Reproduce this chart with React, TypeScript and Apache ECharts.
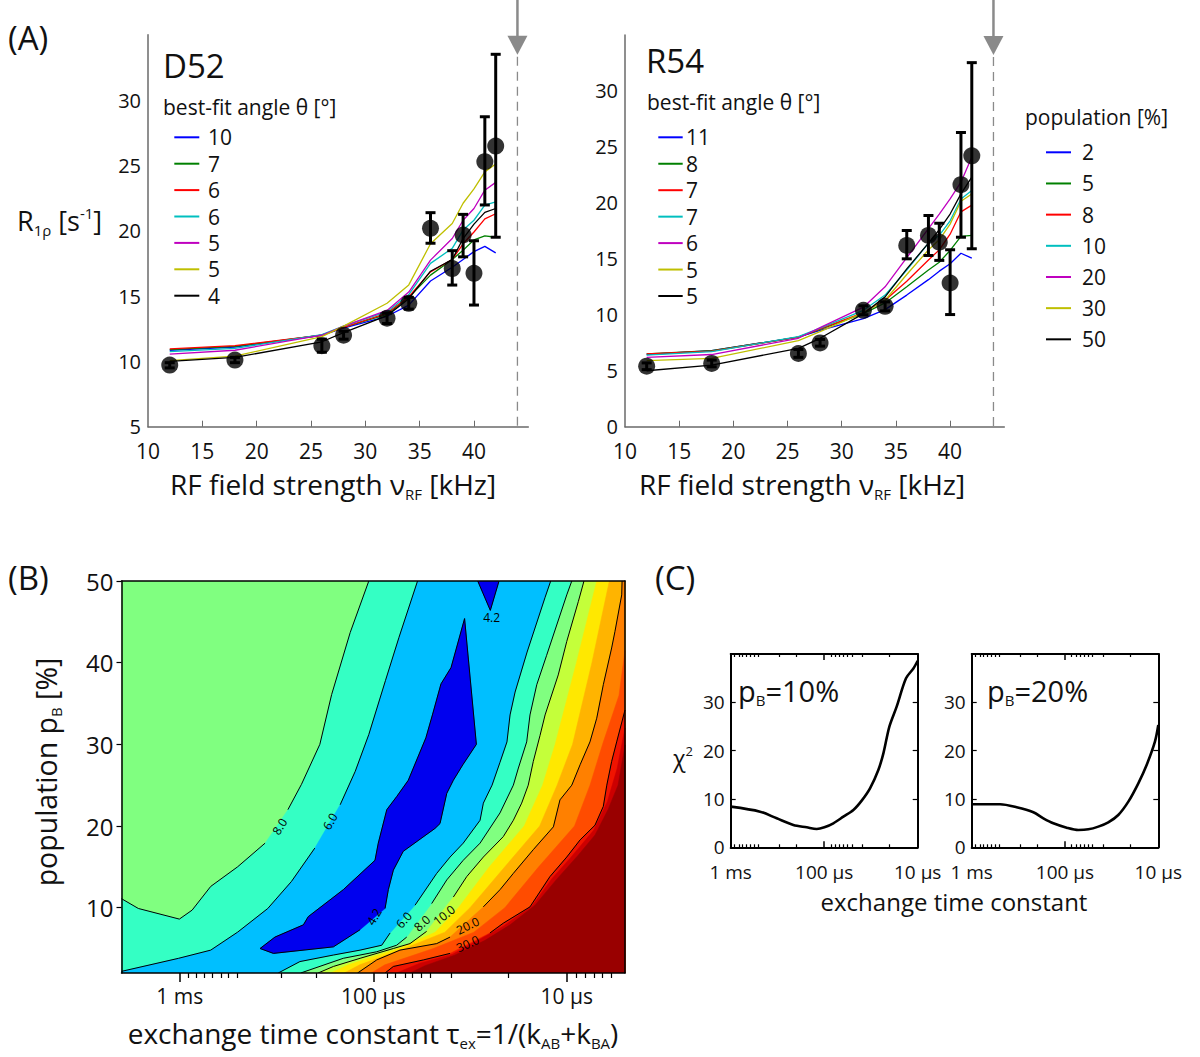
import React, { useEffect, useRef } from 'react';
import * as echarts from 'echarts';

const FONT = '"Open Sans", "DejaVu Sans", sans-serif';

// ---------------- Panel A data ----------------
const fieldKHz = [12, 18, 26, 28, 32, 34, 36, 38, 39, 40, 41, 42];

const d52R = [9.72, 10.1, 11.2, 12.0, 13.3, 14.44, 20.18, 17.1, 19.67, 16.74, 25.28, 26.48];
const d52Lo = [9.5, 9.9, 10.7, 11.7, 12.9, 14.0, 19.04, 15.84, 18.0, 14.31, 21.97, 19.5];
const d52Hi = [9.9, 10.3, 11.7, 12.3, 13.7, 14.9, 21.38, 18.47, 21.25, 19.23, 28.72, 33.5];

const r54R = [5.41, 5.65, 6.54, 7.49, 10.4, 10.76, 16.2, 17.09, 16.49, 12.84, 21.63, 24.2];
const r54Lo = [5.1, 5.35, 6.2, 7.2, 10.0, 10.35, 15.0, 15.3, 14.86, 10.02, 16.93, 15.9];
const r54Hi = [5.7, 5.95, 6.9, 7.8, 10.8, 11.15, 17.53, 18.87, 18.18, 15.81, 26.29, 32.53];

const d52Fits = [
  [10.85, 11.1, 12.0, 12.55, 13.45, 14.3, 16.15, 17.2, 17.8, 18.4, 18.8, 18.3],
  [10.9, 11.15, 12.0, 12.6, 13.6, 14.9, 16.6, 17.8, 18.5, 19.3, 19.6, 19.5],
  [10.95, 11.2, 12.0, 12.6, 13.7, 14.95, 16.85, 17.8, 19.0, 19.9, 20.9, 21.3],
  [10.75, 11.0, 12.05, 12.7, 13.8, 15.1, 17.5, 18.65, 20.05, 20.8, 21.95, 22.2],
  [10.55, 10.85, 12.0, 12.7, 13.9, 15.3, 17.75, 19.4, 20.8, 21.7, 23.1, 23.7],
  [10.05, 10.4, 11.9, 12.7, 14.45, 15.85, 19.0, 20.55, 22.1, 23.2, 24.5, 25.1],
  [10.0, 10.3, 11.5, 12.2, 13.5, 14.8, 16.9, 17.8, 19.4, 20.5, 21.4, 21.7],
];
const r54Fits = [
  [6.45, 6.8, 8.0, 8.6, 9.66, 10.46, 11.76, 13.14, 13.9, 14.56, 15.5, 15.06],
  [6.5, 6.8, 8.0, 8.7, 10.1, 11.06, 12.5, 14.0, 14.7, 15.75, 17.0, 17.1],
  [6.5, 6.75, 8.0, 8.75, 10.2, 11.3, 13.0, 14.9, 15.8, 17.2, 19.2, 19.8],
  [6.4, 6.7, 8.05, 8.8, 10.4, 11.76, 14.0, 16.4, 17.1, 18.4, 20.35, 21.1],
  [6.2, 6.45, 7.9, 8.85, 10.68, 12.5, 15.1, 17.7, 19.0, 20.35, 21.85, 24.1],
  [5.9, 6.1, 7.7, 8.5, 10.2, 11.3, 13.6, 15.8, 16.7, 18.1, 20.15, 20.8],
  [5.0, 5.5, 7.0, 7.9, 10.1, 11.6, 14.1, 16.4, 17.6, 19.0, 20.8, 22.3],
];
const d52Angles = ['10', '7', '6', '6', '5', '5', '4'];
const r54Angles = ['11', '8', '7', '7', '6', '5', '5'];
const populations = ['2', '5', '8', '10', '20', '30', '50'];
const fitColors = ['#0000FF', '#008000', '#FF0000', '#00BFBF', '#BF00BF', '#BFBF00', '#000000'];
const arrowKHz = 44;
const aXTicks = [10, 15, 20, 25, 30, 35, 40];

// ---------------- Panel B data (x = log10(1/tau [s]), y = pB [%]) ----------------
const X0 = Math.log10(500);
const X1 = Math.log10(2e5);
const tauTicks = [3, 4, 5];
const tauTickText = ['1 ms', '100 µs', '10 µs'];
const tauMinorTicks = [3.043, 3.087, 3.127, 3.168, 3.212, 3.252, 3.296, 3.524, 3.704, 4.071, 4.116, 4.163, 4.203, 4.249, 4.295, 4.405, 4.699, 5.048, 5.094, 5.14, 5.186, 5.231];
const pbTicks = [10, 20, 30, 40, 50];

const bL8a = [[3.977, 50], [3.881, 43.7], [3.785, 36.1], [3.724, 30.0], [3.629, 25.1], [3.559, 22.0], null, [3.441, 17.9], [3.299, 15.0], [3.16, 12.6], [3.064, 9.7], [2.998, 8.6], [2.786, 9.9], [2.699, 11.1]];
const bL6a = [[4.229, 50], [4.133, 43.1], [4.063, 37.8], [3.977, 31.2], [3.907, 26.7], [3.829, 22.6], null, [3.698, 17.3], [3.577, 13.2], [3.455, 9.9], [3.299, 7.0], [3.16, 4.8], [2.994, 3.8], [2.699, 2.2]];
const bL6b = [[4.917, 50], [4.888, 48.0], [4.795, 41.3], [4.733, 36.4], [4.707, 33.6], [4.691, 30.3], [4.655, 27.8], [4.614, 25.0], [4.569, 22.8], [4.552, 20.7], [4.465, 17.9], [4.397, 16.2], [4.328, 14.2], [4.259, 11.8], [4.216, 10.3], null, [4.087, 6.9], [4.044, 5.4], [3.932, 4.8], [3.794, 4.2], [3.621, 3.4], [3.509, 2]];
const bL8b = [[5.026, 50], [5.0, 48.3], [4.896, 40.9], [4.845, 37.3], [4.81, 33.6], [4.793, 30.3], [4.75, 27.1], [4.724, 25.0], [4.655, 21.6], [4.552, 17.9], [4.465, 15.8], [4.38, 13.4], [4.302, 10.5], null, [4.173, 6.4], [4.121, 5.4], [4.018, 4.6], [3.845, 3.8], [3.625, 2]];
const bL10 = [[5.089, 50], [5.06, 47.5], [5.0, 42.6], [4.956, 38.5], [4.888, 33.6], [4.862, 31.1], [4.827, 27.9], [4.801, 25.0], [4.767, 22.8], [4.724, 20.7], [4.672, 18.7], [4.569, 16.2], [4.483, 13.8], [4.414, 11.3], null, [4.276, 7.1], [4.19, 5.6], [4.104, 5.0], [3.932, 3.8], [3.794, 2.8], [3.715, 2]];
const bL13 = [[5.155, 50], [5.05, 40], [4.94, 30], [4.875, 25], [4.78, 20], [4.6, 15], [4.44, 10], [4.32, 7], [4.13, 5], [3.87, 3], [3.78, 2]];
const bL16 = [[5.22, 50], [5.13, 40], [5.03, 30], [4.95, 25], [4.86, 20], [4.68, 15], [4.5, 10], [4.37, 7], [4.16, 5], [3.93, 3], [3.85, 2]];
const bL20 = [[5.286, 50], [5.284, 48.3], [5.249, 43.8], [5.232, 41.8], [5.189, 37.3], [5.155, 33.2], [5.12, 30.3], [5.069, 27.5], [5.026, 25.0], [4.965, 23.2], [4.931, 19.9], [4.827, 17.1], [4.724, 14.2], [4.655, 12.2], [4.569, 10.1], null, [4.397, 6.4], [4.328, 5.6], [4.138, 4.8], [4.018, 3.6], [3.919, 2]];
const bL25 = [[5.301, 41.5], [5.27, 36], [5.185, 30], [5.12, 25], [5.04, 20], [4.855, 15], [4.68, 10], [4.52, 7], [4.31, 5], [4.06, 3], [3.99, 2]];
const bL30 = [[5.301, 34.2], [5.258, 30.3], [5.232, 27.9], [5.207, 25.0], [5.189, 22.4], [5.146, 20.1], [5.069, 18.3], [5.0, 16.2], [4.913, 13.8], [4.81, 10.1], [4.672, 8.1], [4.603, 6.9], null, [4.397, 4.4], [4.259, 3.6], [4.104, 2.8], [4.061, 2]];
const bL35 = [[5.301, 32], [5.26, 27], [5.21, 23], [5.14, 19.5], [5.015, 16], [4.925, 13.6], [4.82, 10.2], [4.67, 7.7], [4.41, 4.3], [4.24, 3.2], [4.12, 2]];
const bL40 = [[5.301, 29.9], [5.265, 25.0], [5.213, 22.0], [5.146, 18.9], [5.058, 16.4], [4.945, 13.4], [4.836, 10.3], [4.707, 7.9], [4.578, 6.0], [4.423, 4.2], [4.267, 2.9], [4.19, 2]];
const bD1 = [[3.932, 7.3], [3.794, 5.2], [3.484, 4.4], [3.415, 5.0], [3.492, 6.4], [3.639, 7.9], [3.664, 8.9], [3.845, 12.2], [4.009, 15.8], [4.026, 17.9], [4.07, 22.0], [4.121, 23.6], [4.181, 25.6], [4.272, 30.8], [4.307, 33.7], [4.35, 37.4], [4.402, 39.4], [4.472, 45.4], [4.533, 30.0], [4.463, 27.5], [4.414, 25.6], [4.38, 24.0], [4.345, 20.3], [4.319, 19.7], [4.155, 16.9], [4.104, 14.6], [4.078, 12.2], [4.061, 9.9]];
const bD2 = [[4.54, 50], [4.605, 46.4], [4.65, 50]];

const bLabels = [
  { text: '8.0', at: [3.516, 19.95], angle: 58 },
  { text: '6.0', at: [3.777, 20.57], angle: 60 },
  { text: '4.2', at: [4.004, 8.9], angle: 60 },
  { text: '4.2', at: [4.612, 45.5], angle: 0 },
  { text: '6.0', at: [4.158, 8.5], angle: 48 },
  { text: '8.0', at: [4.252, 8.1], angle: 42 },
  { text: '10.0', at: [4.366, 9.1], angle: 38 },
  { text: '20.0', at: [4.488, 7.8], angle: 26 },
  { text: '30.0', at: [4.488, 5.6], angle: 24 },
];

// ---------------- Panel C data ----------------
const cX10 = [3.0, 3.314, 3.492, 3.67, 3.813, 3.92, 4.002, 4.098, 4.205, 4.312, 4.401, 4.49, 4.579, 4.633, 4.697, 4.775, 4.875, 4.954, 5.0];
const cChi10 = [8.41, 7.38, 6.0, 4.62, 4.14, 3.79, 4.14, 4.97, 6.34, 7.72, 9.66, 12.2, 16.0, 19.45, 24.97, 29.1, 34.97, 37.0, 38.6];
const cX20 = [3.0, 3.304, 3.482, 3.661, 3.768, 3.875, 4.018, 4.143, 4.25, 4.357, 4.464, 4.571, 4.679, 4.786, 4.875, 4.964, 5.0];
const cChi20 = [8.9, 8.9, 8.28, 7.24, 6.0, 4.97, 4.07, 3.59, 3.72, 4.28, 5.17, 6.69, 9.45, 13.24, 17.03, 21.86, 25.3];
const chiTicks = [0, 10, 20, 30];

// ---------------- helpers ----------------
const rich = {
  s: { fontSize: 15, fontFamily: FONT, padding: [19, 0, 0, 0] },
  p: { fontSize: 15, fontFamily: FONT, padding: [0, 0, 15, 0] },
};
const richSmall = {
  s: { fontSize: 13, fontFamily: FONT, padding: [16, 0, 0, 0] },
  p: { fontSize: 13, fontFamily: FONT, padding: [0, 0, 14, 0] },
};

function txt(text: string, x: number, y: number, fontSize: number, opts: any = {}) {
  return {
    type: 'text',
    x, y,
    rotation: opts.rotation || 0,
    z: 50,
    style: {
      text, fontSize, fontFamily: FONT, fill: '#111',
      align: opts.align || 'left', verticalAlign: 'middle',
      rich: opts.rich,
    },
  };
}

function legend(title: string, titleX: number, titleY: number, labels: string[], row0: number, step: number, lx0: number, lx1: number, tx: number) {
  const els: any[] = [txt(title, titleX, titleY, 21)];
  labels.forEach((l, i) => {
    const y = row0 + i * step;
    els.push({ type: 'line', z: 50, shape: { x1: lx0, y1: y, x2: lx1, y2: y }, style: { stroke: fitColors[i], lineWidth: 2 } });
    els.push(txt(l, tx, y, 21));
  });
  return els;
}

const tauFmt = (v: number) => {
  const i = tauTicks.findIndex((t) => Math.abs(t - v) < 1e-6);
  return i >= 0 ? tauTickText[i] : '';
};

function buildOption() {
  const grids = [
    { left: 148, top: 34.7, width: 380.3, height: 392 },
    { left: 625, top: 35, width: 379.3, height: 391.7 },
    { left: 121.5, top: 581, width: 503.5, height: 392, show: true, backgroundColor: '#80FF80', borderWidth: 0 },
    { left: 730.7, top: 654, width: 187, height: 193.3 },
    { left: 971.7, top: 654, width: 186.6, height: 193.3 },
  ];

  const aX = (g: number) => ({
    gridIndex: g, type: 'value', min: 10, max: 45,
    axisLine: { onZero: false, lineStyle: { color: '#6a6a6a', width: 1.5 } },
    axisTick: { inside: true, length: 6, customValues: aXTicks.slice(1), lineStyle: { color: '#6a6a6a', width: 1 } },
    axisLabel: { customValues: aXTicks, fontSize: 21, color: '#111', fontFamily: FONT, margin: 14 },
    splitLine: { show: false },
  });
  const aY = (g: number, min: number) => {
    const vals: number[] = [];
    for (let v = min; v <= 30; v += 5) vals.push(v);
    return {
      gridIndex: g, type: 'value', min, max: 35,
      axisLine: { show: true, onZero: false, lineStyle: { color: '#6a6a6a', width: 1.5 } },
      axisTick: { show: false },
      axisLabel: { customValues: vals, fontSize: 20, color: '#111', fontFamily: FONT, margin: 7 },
      splitLine: { show: false },
    };
  };

  const blackLine = (w: number) => ({ show: true, onZero: false, lineStyle: { color: '#000', width: w } });
  const noLabel = { show: false };

  const xAxes: any[] = [
    aX(0), aX(1),
    // B
    {
      gridIndex: 2, type: 'value', min: X0, max: X1, position: 'bottom', z: 10,
      axisLine: blackLine(1.5),
      axisTick: { customValues: tauTicks, length: 9, lineStyle: { color: '#000', width: 1.5 } },
      axisLabel: { customValues: tauTicks, formatter: tauFmt, fontSize: 21, color: '#111', fontFamily: FONT, margin: 12 },
      splitLine: { show: false },
    },
    {
      gridIndex: 2, type: 'value', min: X0, max: X1, position: 'bottom', z: 10,
      axisLine: { show: false, onZero: false },
      axisTick: { customValues: tauMinorTicks, length: 5, lineStyle: { color: '#000', width: 1.2 } },
      axisLabel: noLabel, splitLine: { show: false },
    },
    {
      gridIndex: 2, type: 'value', min: X0, max: X1, position: 'top', z: 10,
      axisLine: blackLine(1.5), axisTick: { show: false }, axisLabel: noLabel, splitLine: { show: false },
    },
  ];
  const yAxes: any[] = [
    aY(0, 5), aY(1, 0),
    {
      gridIndex: 2, type: 'value', min: 2, max: 50, position: 'left', z: 10,
      axisLine: blackLine(1.5),
      axisTick: { customValues: pbTicks, length: 5, lineStyle: { color: '#000', width: 1.2 } },
      axisLabel: { customValues: pbTicks, fontSize: 24, color: '#111', fontFamily: FONT, margin: 8 },
      splitLine: { show: false },
    },
    {
      gridIndex: 2, type: 'value', min: 2, max: 50, position: 'right', z: 10,
      axisLine: blackLine(1.5), axisTick: { show: false }, axisLabel: noLabel, splitLine: { show: false },
    },
  ];

  // C axes
  const cXIdx: number[] = [];
  const cYIdx: number[] = [];
  [3, 4].forEach((g) => {
    cXIdx.push(xAxes.length);
    xAxes.push({
      gridIndex: g, type: 'value', min: 3, max: 5, position: 'bottom', z: 10,
      axisLine: blackLine(2),
      axisTick: { inside: true, customValues: [4], length: 6, lineStyle: { color: '#000', width: 1.5 } },
      axisLabel: { customValues: tauTicks, formatter: tauFmt, fontSize: 19, color: '#111', fontFamily: FONT, margin: 15 },
      splitLine: { show: false },
    });
    xAxes.push({
      gridIndex: g, type: 'value', min: 3, max: 5, position: 'bottom', z: 10,
      axisLine: { show: false, onZero: false },
      axisTick: { inside: true, customValues: tauMinorTicks.filter((t) => t < 5), length: 3, lineStyle: { color: '#000', width: 1.2 } },
      axisLabel: noLabel, splitLine: { show: false },
    });
    xAxes.push({
      gridIndex: g, type: 'value', min: 3, max: 5, position: 'top', z: 10,
      axisLine: blackLine(2),
      axisTick: { inside: true, customValues: [4], length: 6, lineStyle: { color: '#000', width: 1.5 } },
      axisLabel: noLabel, splitLine: { show: false },
    });
    xAxes.push({
      gridIndex: g, type: 'value', min: 3, max: 5, position: 'top', z: 10,
      axisLine: { show: false, onZero: false },
      axisTick: { inside: true, customValues: tauMinorTicks.filter((t) => t < 5), length: 3, lineStyle: { color: '#000', width: 1.2 } },
      axisLabel: noLabel, splitLine: { show: false },
    });
    cYIdx.push(yAxes.length);
    yAxes.push({
      gridIndex: g, type: 'value', min: 0, max: 40, position: 'left', z: 10,
      axisLine: blackLine(2),
      axisTick: { inside: true, customValues: [10, 20, 30], length: 5, lineStyle: { color: '#000', width: 1.2 } },
      axisLabel: { customValues: chiTicks, fontSize: 19, color: '#111', fontFamily: FONT, margin: 6 },
      splitLine: { show: false },
    });
    yAxes.push({
      gridIndex: g, type: 'value', min: 0, max: 40, position: 'right', z: 10,
      axisLine: blackLine(2),
      axisTick: { inside: true, customValues: [10, 20, 30], length: 5, lineStyle: { color: '#000', width: 1.2 } },
      axisLabel: noLabel, splitLine: { show: false },
    });
  });

  const series: any[] = [];

  // Panel A series
  const panelA = [
    { g: 0, fits: d52Fits, r: d52R, lo: d52Lo, hi: d52Hi, ymin: 5 },
    { g: 1, fits: r54Fits, r: r54R, lo: r54Lo, hi: r54Hi, ymin: 0 },
  ];
  panelA.forEach((p) => {
    p.fits.forEach((f, k) => {
      series.push({
        type: 'line', xAxisIndex: p.g, yAxisIndex: p.g, symbol: 'none', z: 3,
        data: fieldKHz.map((x, i) => [x, f[i]]),
        lineStyle: { color: fitColors[k], width: 1.3 },
      });
    });
    series.push({
      type: 'custom', xAxisIndex: p.g, yAxisIndex: p.g, z: 5,
      data: fieldKHz.map((x, i) => [x, p.lo[i], p.hi[i]]),
      encode: { x: 0, y: [1, 2] },
      renderItem: (params: any, api: any) => {
        const x = api.value(0);
        const a = api.coord([x, api.value(1)]);
        const b = api.coord([x, api.value(2)]);
        const w = 5;
        const st = { stroke: '#000', lineWidth: 3 };
        return {
          type: 'group', children: [
            { type: 'line', shape: { x1: a[0], y1: a[1], x2: b[0], y2: b[1] }, style: st },
            { type: 'line', shape: { x1: a[0] - w, y1: a[1], x2: a[0] + w, y2: a[1] }, style: st },
            { type: 'line', shape: { x1: b[0] - w, y1: b[1], x2: b[0] + w, y2: b[1] }, style: st },
          ],
        };
      },
    });
    series.push({
      type: 'scatter', xAxisIndex: p.g, yAxisIndex: p.g, z: 6,
      data: fieldKHz.map((x, i) => [x, p.r[i]]),
      symbol: 'circle', symbolSize: 17, itemStyle: { color: '#000' },
    });
    series.push({
      type: 'custom', xAxisIndex: p.g, yAxisIndex: p.g, z: 2, clip: false,
      data: [[arrowKHz, 35, p.ymin]],
      renderItem: (params: any, api: any) => {
        const t = api.coord([api.value(0), api.value(1)]);
        const b = api.coord([api.value(0), api.value(2)]);
        const grey = '#8a8a8a';
        return {
          type: 'group', children: [
            { type: 'line', shape: { x1: t[0], y1: t[1] - 36, x2: t[0], y2: t[1] + 6 }, style: { stroke: grey, lineWidth: 2.5 } },
            { type: 'polygon', shape: { points: [[t[0] - 10, t[1] + 1], [t[0] + 10, t[1] + 1], [t[0], t[1] + 20]] }, style: { fill: grey } },
            { type: 'line', shape: { x1: t[0], y1: t[1] + 22, x2: b[0], y2: b[1] }, style: { stroke: grey, lineWidth: 1.3, lineDash: [9, 6] } },
          ],
        };
      },
    });
  });

  // Panel B fills
  const rev = (a: any[]) => a.slice().reverse();
  const bFills = [
    { pts: [...bL8a, [X0, 2], ...rev(bL8b)], color: '#34FFC4' },
    { pts: [...bL6a, [X0, 2], ...rev(bL6b)], color: '#00BFFF' },
    { pts: bD1, color: '#0000EE' },
    { pts: bD2, color: '#0000EE' },
    { pts: [...bL10, [X1, 2], [X1, 50]], color: '#C4FF3A' },
    { pts: [...bL13, [X1, 2], [X1, 50]], color: '#FFE800' },
    { pts: [...bL16, [X1, 2], [X1, 50]], color: '#FFB400' },
    { pts: [...bL20, [X1, 2], [X1, 50]], color: '#FF8000' },
    { pts: [...bL25, [X1, 2]], color: '#FF4C00' },
    { pts: [...bL30, [X1, 2]], color: '#F01400' },
    { pts: [...bL35, [X1, 2]], color: '#CC0000' },
    { pts: [...bL40, [X1, 2]], color: '#990000' },
  ];
  series.push({
    type: 'custom', xAxisIndex: 2, yAxisIndex: 2, z: 1, clip: true,
    data: bFills.map((_, i) => i),
    renderItem: (params: any, api: any) => {
      const f = bFills[params.dataIndex];
      const pts = f.pts.filter((p: any) => p).map((p: any) => api.coord(p));
      return { type: 'polygon', shape: { points: pts }, style: { fill: f.color, stroke: f.color, lineWidth: 0.5 } };
    },
  });
  const bLines = [bL8a, bL6a, bL6b, bL8b, bL10, bL20, bL30, bD1, bD2];
  series.push({
    type: 'custom', xAxisIndex: 2, yAxisIndex: 2, z: 2, clip: true,
    data: bLines.map((_, i) => i),
    renderItem: (params: any, api: any) => {
      const line = bLines[params.dataIndex] as any[];
      const segs: number[][][] = [];
      let cur: number[][] = [];
      line.forEach((p) => {
        if (!p) { if (cur.length) segs.push(cur); cur = []; } else cur.push(api.coord(p));
      });
      if (cur.length) segs.push(cur);
      return {
        type: 'group',
        children: segs.map((s) => ({ type: 'polyline', shape: { points: s }, style: { stroke: '#000', lineWidth: 1, fill: null } })),
      };
    },
  });
  series.push({
    type: 'custom', xAxisIndex: 2, yAxisIndex: 2, z: 3,
    data: bLabels.map((_, i) => i),
    renderItem: (params: any, api: any) => {
      const l = bLabels[params.dataIndex];
      const p = api.coord(l.at);
      return {
        type: 'text', x: p[0], y: p[1], rotation: (l.angle * Math.PI) / 180,
        style: { text: l.text, fontSize: 12, fontFamily: FONT, fill: '#000', align: 'center', verticalAlign: 'middle' },
      };
    },
  });

  // Panel C
  [[cX10, cChi10], [cX20, cChi20]].forEach((d, k) => {
    series.push({
      type: 'line', xAxisIndex: cXIdx[k], yAxisIndex: cYIdx[k], symbol: 'none', smooth: 0.3, z: 3,
      data: d[0].map((x, i) => [x, d[1][i]]),
      lineStyle: { color: '#000', width: 2.6 },
    });
  });

  const graphic: any[] = [
    txt('(A)', 8, 37, 33),
    txt('(B)', 8, 577, 33),
    txt('(C)', 655, 577, 33),
    txt('D52', 163, 65, 33),
    txt('R54', 646, 60, 33),
    txt('R{s|1ρ} [s{p|-1}]', 17, 220, 27, { rich }),
    txt('RF field strength ν{s|RF} [kHz]', 333, 484, 28, { rich, align: 'center' }),
    txt('RF field strength ν{s|RF} [kHz]', 802, 484, 28, { rich, align: 'center' }),
    txt('population p{s|B} [%]', 46, 772, 28.5, { rich, align: 'center', rotation: Math.PI / 2 }),
    txt('exchange time constant τ{s|ex}=1/(k{s|AB}+k{s|BA})', 373, 1033, 28, { rich, align: 'center' }),
    txt('exchange time constant', 954, 901, 24, { align: 'center' }),
    txt('χ{p|2}', 673, 758, 23, { rich: richSmall }),
    txt('p{s|B}=10%', 738, 690, 29, { rich }),
    txt('p{s|B}=20%', 987, 690, 29, { rich }),
    ...legend('best-fit angle θ [°]', 163, 106.7, d52Angles, 137.3, 26.4, 174.3, 199.3, 208),
    ...legend('best-fit angle θ [°]', 647, 101.7, r54Angles, 137.3, 26.45, 658.3, 682.7, 686),
    ...legend('population [%]', 1025, 116.7, populations, 152.3, 31.17, 1046, 1071, 1082),
  ];

  return {
    animation: false,
    backgroundColor: '#ffffff',
    textStyle: { fontFamily: FONT },
    grid: grids,
    xAxis: xAxes,
    yAxis: yAxes,
    series,
    graphic,
  };
}

export default function App() {
  const ref = useRef<HTMLDivElement>(null);
  useEffect(() => {
    if (!ref.current) return;
    const chart = echarts.init(ref.current, undefined, { renderer: 'svg' });
    chart.setOption(buildOption() as any);
    return () => chart.dispose();
  }, []);
  return (
    <div
      ref={ref}
      style={{ position: 'fixed', left: 0, top: 0, width: 1200, height: 1057, background: '#fff' }}
    />
  );
}
